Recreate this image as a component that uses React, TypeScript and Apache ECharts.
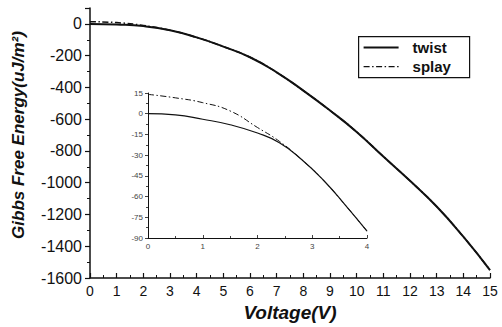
import React, { useEffect, useRef } from "react";
import * as echarts from "echarts";

// Main chart data
const mainVoltage = [0, 1, 2, 3, 4, 5, 6, 7, 8, 9, 10, 11, 12, 13, 14, 15];
const twistMain = [0, -4, -14, -40, -85, -143, -210, -305, -420, -545, -680, -835, -988, -1150, -1340, -1550];
const splayMain = [14, 8, -10, -40, -85, -143, -210, -305, -420, -545, -680, -835, -988, -1150, -1340, -1550];

// Inset data
const insetVoltage = [0, 0.5, 1, 1.5, 2, 2.4, 2.8, 3.2, 3.6, 4];
const twistInset = [0, -0.8, -4, -8, -14, -21, -33, -48, -66, -85];
const splayInset = [14, 11.5, 8, 2, -10, -20, -33, -48, -66, -85];

const seriesNames = ["twist", "splay"];
const xTitle = "Voltage(V)";
const yTitle = "Gibbs Free Energy(uJ/m²)";

const INK = "#111";
const FONT = "'Liberation Sans', Arial, sans-serif";
const dashDot = [6, 2.5, 1.5, 2.5];

function pairs(xs: number[], ys: number[]) {
  return xs.map((x, i) => [x, ys[i]]);
}

export default function App() {
  const ref = useRef<HTMLDivElement>(null);
  useEffect(() => {
    if (!ref.current) return;
    const chart = echarts.init(ref.current, null, { renderer: "svg" });
    chart.setOption({
      animation: false,
      backgroundColor: "#fff",
      grid: [
        { left: 90, right: 12, top: 8, bottom: 49, containLabel: false },
        { left: 148, width: 219, top: 93, height: 145, containLabel: false },
      ],
      xAxis: [
        {
          gridIndex: 0,
          type: "value",
          min: 0,
          max: 15,
          interval: 1,
          name: xTitle,
          nameLocation: "middle",
          nameGap: 23,
          nameTextStyle: { fontFamily: FONT, fontSize: 19, fontWeight: "bold", fontStyle: "italic", color: INK, verticalAlign: "top" },
          axisLine: { show: true, onZero: false, lineStyle: { color: INK, width: 1.5 } },
          axisTick: { show: true, inside: true, length: 5, lineStyle: { color: INK, width: 1.2 } },
          minorTick: { show: true, splitNumber: 2, length: 3, lineStyle: { color: INK, width: 1 } },
          axisLabel: { fontFamily: FONT, fontSize: 14, color: INK, margin: 6 },
          splitLine: { show: false },
        },
        {
          gridIndex: 1,
          type: "value",
          min: 0,
          max: 4,
          interval: 1,
          axisLine: { show: true, onZero: false, lineStyle: { color: INK, width: 1 } },
          axisTick: { show: true, inside: true, length: 3, lineStyle: { color: INK, width: 0.8 } },
          minorTick: { show: true, splitNumber: 2, length: 2, lineStyle: { color: INK, width: 0.8 } },
          axisLabel: { fontFamily: FONT, fontSize: 8, color: "#444", margin: 4 },
          splitLine: { show: false },
        },
      ],
      yAxis: [
        {
          gridIndex: 0,
          type: "value",
          min: -1600,
          max: 100,
          interval: 200,
          name: yTitle,
          nameLocation: "middle",
          nameGap: 63,
          nameTextStyle: { fontFamily: FONT, fontSize: 17, fontWeight: "bold", fontStyle: "italic", color: INK, padding: [0, 0, 0, 16] },
          axisLine: { show: true, onZero: false, lineStyle: { color: INK, width: 1.5 } },
          axisTick: { show: true, length: 5, lineStyle: { color: INK, width: 1.2 } },
          minorTick: { show: true, splitNumber: 2, length: 3, lineStyle: { color: INK, width: 1 } },
          axisLabel: {
            fontFamily: FONT,
            fontSize: 16,
            color: INK,
            margin: 8,
            showMaxLabel: false,
            formatter: (v: number) => (v > 0 ? "" : String(v)),
          },
          splitLine: { show: false },
        },
        {
          gridIndex: 1,
          type: "value",
          min: -90,
          max: 15,
          interval: 15,
          axisLine: { show: true, onZero: false, lineStyle: { color: INK, width: 1 } },
          axisTick: { show: true, length: 3, lineStyle: { color: INK, width: 0.8 } },
          minorTick: { show: true, splitNumber: 2, length: 2, lineStyle: { color: INK, width: 0.8 } },
          axisLabel: { fontFamily: FONT, fontSize: 8, color: "#444", margin: 5 },
          splitLine: { show: false },
        },
      ],
      series: [
        {
          name: seriesNames[0],
          type: "line",
          xAxisIndex: 0,
          yAxisIndex: 0,
          data: pairs(mainVoltage, twistMain),
          smooth: true,
          symbol: "none",
          lineStyle: { color: INK, width: 2 },
        },
        {
          name: seriesNames[1],
          type: "line",
          xAxisIndex: 0,
          yAxisIndex: 0,
          data: pairs(mainVoltage, splayMain),
          smooth: true,
          symbol: "none",
          lineStyle: { color: INK, width: 1.5, type: dashDot },
        },
        {
          name: seriesNames[0] + " (inset)",
          type: "line",
          xAxisIndex: 1,
          yAxisIndex: 1,
          data: pairs(insetVoltage, twistInset),
          smooth: true,
          symbol: "none",
          lineStyle: { color: INK, width: 1.2 },
        },
        {
          name: seriesNames[1] + " (inset)",
          type: "line",
          xAxisIndex: 1,
          yAxisIndex: 1,
          data: pairs(insetVoltage, splayInset),
          smooth: true,
          symbol: "none",
          lineStyle: { color: INK, width: 1, type: dashDot },
        },
      ],
      graphic: [
        {
          type: "group",
          left: 358,
          top: 36,
          children: [
            { type: "rect", shape: { x: 0, y: 0, width: 111, height: 41 }, style: { fill: "#fff", stroke: INK, lineWidth: 1.2 } },
            { type: "line", shape: { x1: 5, y1: 11, x2: 40, y2: 11 }, style: { stroke: INK, lineWidth: 2 } },
            { type: "line", shape: { x1: 5, y1: 30, x2: 40, y2: 30 }, style: { stroke: INK, lineWidth: 1.3, lineDash: dashDot } },
            { type: "text", x: 54, y: 11, style: { text: seriesNames[0], fontFamily: FONT, fontSize: 15, fontWeight: "bold", fill: INK, verticalAlign: "middle" } },
            { type: "text", x: 54, y: 30, style: { text: seriesNames[1], fontFamily: FONT, fontSize: 15, fontWeight: "bold", fill: INK, verticalAlign: "middle" } },
          ],
        },
      ],
    });
    return () => chart.dispose();
  }, []);
  return <div ref={ref} style={{ width: 502, height: 327, position: "absolute", left: 0, top: 0 }} />;
}
